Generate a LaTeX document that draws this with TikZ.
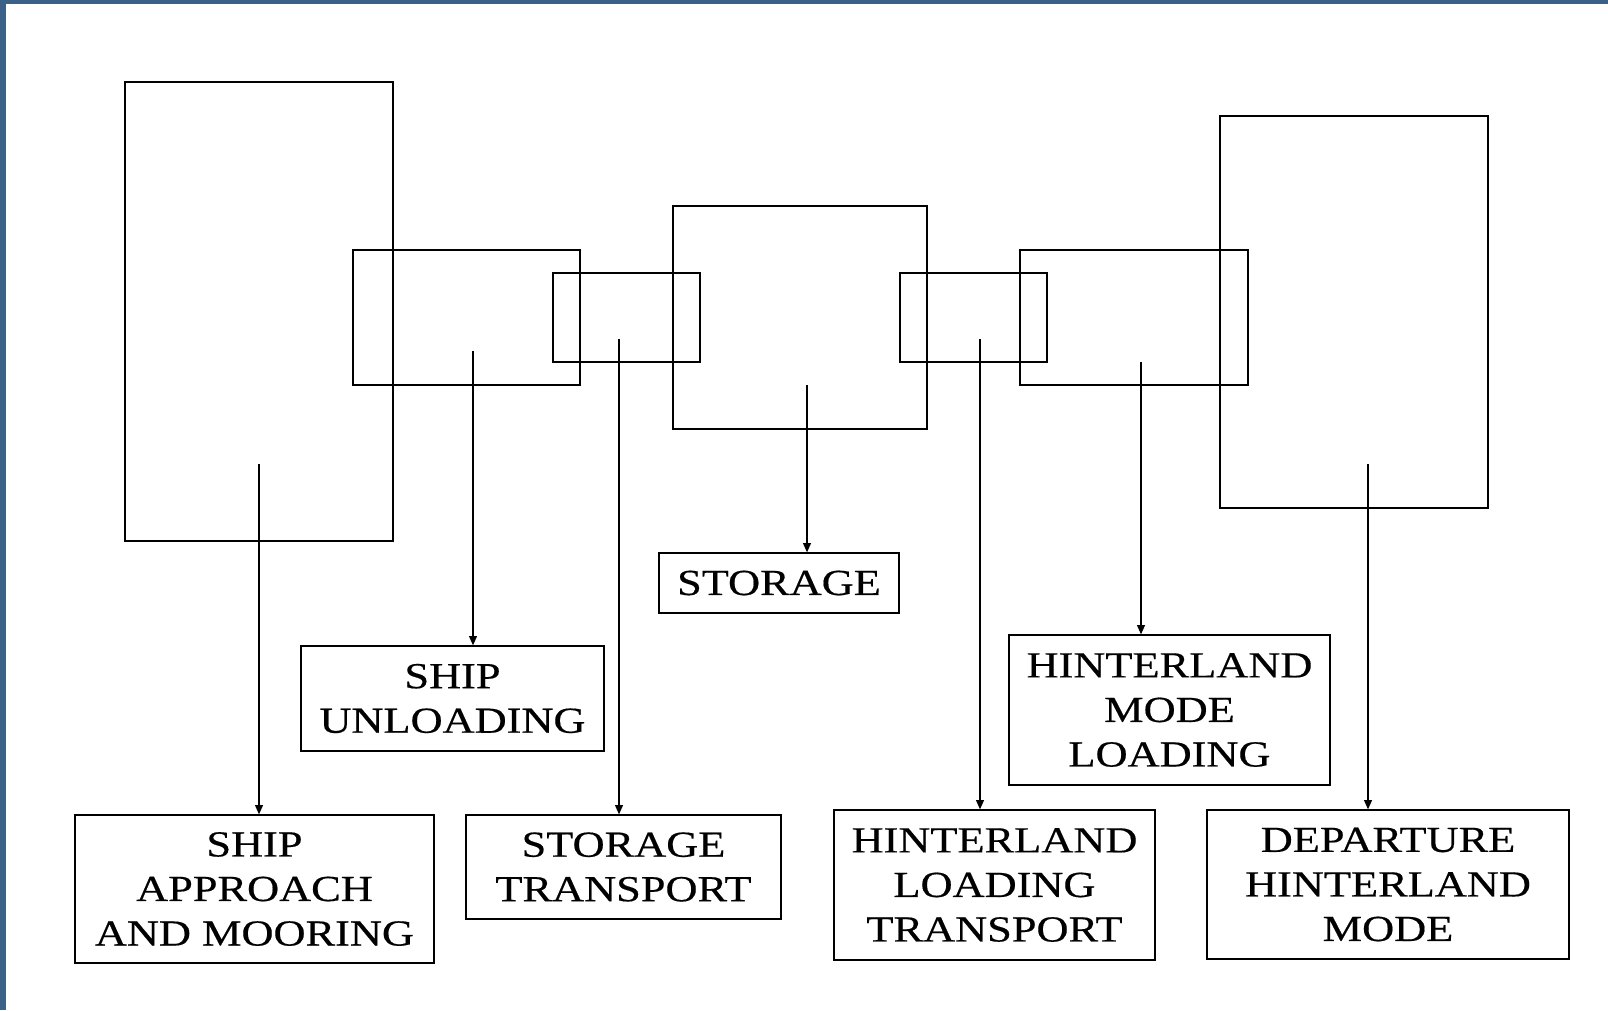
\documentclass[tikz,border=0pt]{standalone}
\usepackage{fontspec}
\setmainfont{Liberation Serif}[FakeStretch=1.21,FakeBold=0.4]
\usetikzlibrary{arrows.meta}
\definecolor{frameblue}{RGB}{59,97,137}
\begin{document}
\begin{tikzpicture}[x=0.75pt,y=-0.75pt,
  shapebox/.style={draw,line width=1pt,rectangle,inner sep=0pt},
  labelbox/.style={draw,line width=1pt,rectangle,inner sep=0pt,align=center,
    font=\fontsize{27.5}{33.4}\selectfont},
  conn/.style={line width=0.9pt,-{Triangle[length=7pt,width=6pt]}}]
\useasboundingbox (0,0) rectangle (1608,1010);
\fill[white] (0,0) rectangle (1608,1010);
\fill[frameblue] (0,0) rectangle (6,1010);
\fill[frameblue] (0,0) rectangle (1608,4);
% overlapping process boxes
\node[shapebox,minimum width=268*0.75pt,minimum height=459*0.75pt] (bigL) at (259,311.5) {};
\node[shapebox,minimum width=227*0.75pt,minimum height=135*0.75pt] (unl) at (466.5,317.5) {};
\node[shapebox,minimum width=147*0.75pt,minimum height=89*0.75pt] (smA) at (626.5,317.5) {};
\node[shapebox,minimum width=254*0.75pt,minimum height=223*0.75pt] (sto) at (800,317.5) {};
\node[shapebox,minimum width=147*0.75pt,minimum height=89*0.75pt] (smB) at (973.5,317.5) {};
\node[shapebox,minimum width=228*0.75pt,minimum height=135*0.75pt] (hin) at (1134,317.5) {};
\node[shapebox,minimum width=268*0.75pt,minimum height=392*0.75pt] (bigR) at (1354,312) {};
% labels
\node[labelbox,minimum width=359*0.75pt,minimum height=148*0.75pt] (lA) at (254.5,889) {SHIP\\APPROACH\\AND MOORING};
\node[labelbox,minimum width=303*0.75pt,minimum height=105*0.75pt] (lU) at (452.5,698.5) {SHIP\\UNLOADING};
\node[labelbox,minimum width=315*0.75pt,minimum height=104*0.75pt] (lST) at (623.5,867) {STORAGE\\TRANSPORT};
\node[labelbox,minimum width=240*0.75pt,minimum height=60*0.75pt] (lS) at (779,583) {STORAGE};
\node[labelbox,minimum width=321*0.75pt,minimum height=150*0.75pt] (lHML) at (1169.5,710) {HINTERLAND\\MODE\\LOADING};
\node[labelbox,minimum width=321*0.75pt,minimum height=150*0.75pt] (lHLT) at (994.5,885) {HINTERLAND\\LOADING\\TRANSPORT};
\node[labelbox,minimum width=362*0.75pt,minimum height=149*0.75pt] (lD) at (1388,884.5) {DEPARTURE\\HINTERLAND\\MODE};
% connector start points
\coordinate (s1) at (259,464);
\coordinate (s2) at (473,351);
\coordinate (s3) at (619,339);
\coordinate (s4) at (807,385);
\coordinate (s5) at (980,339);
\coordinate (s6) at (1141,362);
\coordinate (s7) at (1368,464);
\draw[conn] (s1) -- (s1 |- lA.north);
\draw[conn] (s2) -- (s2 |- lU.north);
\draw[conn] (s3) -- (s3 |- lST.north);
\draw[conn] (s4) -- (s4 |- lS.north);
\draw[conn] (s5) -- (s5 |- lHLT.north);
\draw[conn] (s6) -- (s6 |- lHML.north);
\draw[conn] (s7) -- (s7 |- lD.north);
\end{tikzpicture}
\end{document}
